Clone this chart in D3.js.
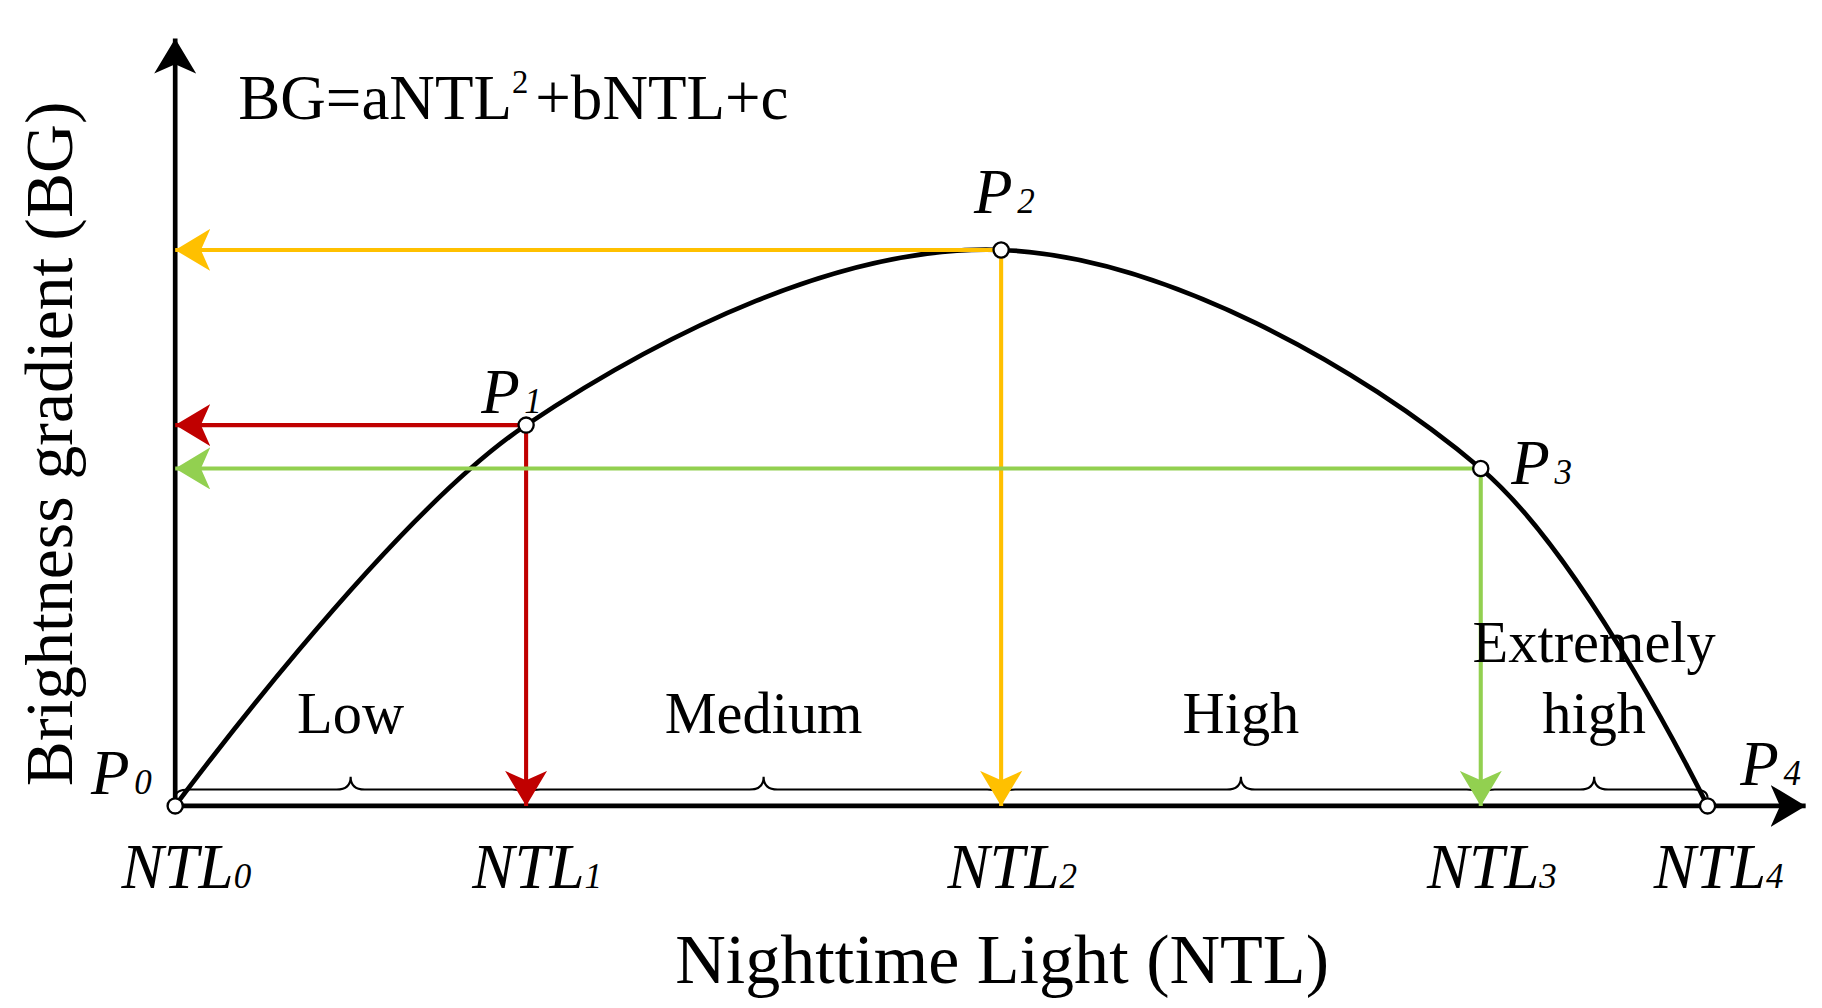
<!DOCTYPE html>
<html><head><meta charset="utf-8">
<script src="https://cdn.jsdelivr.net/npm/d3@7"></script>
<style>body{margin:0;background:#fff}svg{display:block}text{font-family:"Liberation Serif","DejaVu Serif",serif}</style>
</head><body>
<svg id="chart" width="1822" height="1008" viewBox="0 0 1560 863"></svg>
<script>
// key points of the curve (relative units)
const pointNames = ['0', '1', '2', '3', '4'];
const ntlValues = [0, 0.229, 0.539, 0.852, 1.0];
const bgValues = [0, 0.685, 1.0, 0.607, 0];
const arrowColors = [null, '#c00000', '#ffc000', '#92d050', null];
const zoneLabels = [['Low'], ['Medium'], ['High'], ['Extremely', 'high']];

const svg = d3.select('#chart');
const x = d3.scaleLinear().domain([0, 1]).range([150, 1462]);
const y = d3.scaleLinear().domain([0, 1]).range([690, 214]);
const x0 = x(0), y0 = y(0);

// arrowheads
const defs = svg.append('defs');
function marker(id, color) {
    defs.append('marker').attr('id', id)
        .attr('viewBox', '0 0 30 36').attr('refX', 30).attr('refY', 18)
        .attr('markerWidth', 30).attr('markerHeight', 36)
        .attr('markerUnits', 'userSpaceOnUse').attr('orient', 'auto')
        .append('path').attr('d', 'M0,0 L30,18 L0,36 L8,18 Z').attr('fill', color);
}
marker('m-axis', '#000');
arrowColors.forEach((c, i) => { if (c) marker('m' + i, c); });

// axes
svg.append('line').attr('x1', x0).attr('y1', y0 + 2).attr('x2', x0).attr('y2', 33)
    .attr('stroke', '#000').attr('stroke-width', 4).attr('marker-end', 'url(#m-axis)');
svg.append('line').attr('x1', x0 - 2).attr('y1', y0).attr('x2', 1546).attr('y2', y0)
    .attr('stroke', '#000').attr('stroke-width', 4).attr('marker-end', 'url(#m-axis)');

// braces
const by = 676, bh = 11;
function brace(a, b) {
    const m = (a + b) / 2;
    return `M${a},${by + 7} Q${a},${by} ${a + 12},${by} L${m - 12},${by} Q${m},${by} ${m},${by - bh}` +
        ` Q${m},${by} ${m + 12},${by} L${b - 12},${by} Q${b},${by} ${b},${by + 7}`;
}
for (let i = 0; i < 4; i++) {
    svg.append('path').attr('d', brace(x(ntlValues[i]), x(ntlValues[i + 1])))
        .attr('fill', 'none').attr('stroke', '#000').attr('stroke-width', 1.8);
}

// curve
const pts = ntlValues.map((v, i) => [x(v), y(bgValues[i])]);
svg.append('path').attr('d', d3.line().curve(d3.curveCatmullRom.alpha(0.5))(pts))
    .attr('fill', 'none').attr('stroke', '#000').attr('stroke-width', 4);

// projection arrows
[1, 2, 3].forEach(i => {
    const px = x(ntlValues[i]), py = y(bgValues[i]);
    const g = svg.append('g').attr('stroke', arrowColors[i]).attr('stroke-width', 3.5);
    g.append('line').attr('x1', px).attr('y1', py).attr('x2', x0).attr('y2', py)
        .attr('marker-end', `url(#m${i})`);
    g.append('line').attr('x1', px).attr('y1', py).attr('x2', px).attr('y2', y0)
        .attr('marker-end', `url(#m${i})`);
});

// points
svg.selectAll('circle.pt').data(pts).join('circle').attr('class', 'pt')
    .attr('cx', d => d[0]).attr('cy', d => d[1]).attr('r', 6.5)
    .attr('fill', '#fff').attr('stroke', '#000').attr('stroke-width', 2);

// zone labels
for (let i = 0; i < 4; i++) {
    const cx = (x(ntlValues[i]) + x(ntlValues[i + 1])) / 2;
    const lines = zoneLabels[i];
    lines.forEach((t, k) => {
        svg.append('text').attr('x', cx).attr('y', 628 - (lines.length - 1 - k) * 61)
            .attr('text-anchor', 'middle').attr('font-size', 50).text(t);
    });
}

// NTL labels
ntlValues.forEach((v, i) => {
    const t = svg.append('text').attr('x', x(v) - 46).attr('y', 760)
        .attr('font-size', 54).attr('font-style', 'italic');
    t.append('tspan').text('NTL');
    t.append('tspan').attr('font-size', 30).text(pointNames[i]);
});

// P labels
const pLabelPos = [[78, 680], [412, 354], [834, 182], [1294, 414], [1490, 672]];
pLabelPos.forEach((p, i) => {
    const t = svg.append('text').attr('x', p[0]).attr('y', p[1])
        .attr('font-size', 54).attr('font-style', 'italic');
    t.append('tspan').text('P');
    t.append('tspan').attr('font-size', 30).attr('dx', 4).text(pointNames[i]);
});

// formula
const f = svg.append('text').attr('x', 204).attr('y', 102).attr('font-size', 54);
f.append('tspan').text('BG=aNTL');
f.append('tspan').attr('font-size', 28).attr('dy', -22).text('2');
f.append('tspan').attr('dy', 22).attr('dx', 6).text('+bNTL+c');

// axis titles
svg.append('text').attr('x', 858).attr('y', 842).attr('text-anchor', 'middle')
    .attr('font-size', 60).text('Nighttime Light (NTL)');
svg.append('text').attr('transform', 'translate(62,380) rotate(-90)')
    .attr('text-anchor', 'middle').attr('font-size', 58).text('Brightness gradient (BG)');
</script>
</body></html>
